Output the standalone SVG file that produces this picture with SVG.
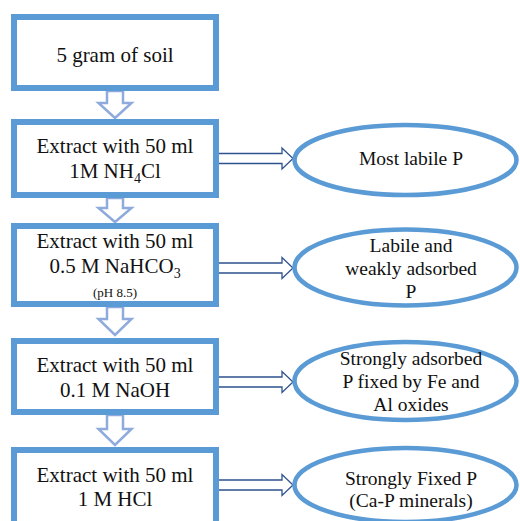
<svg xmlns="http://www.w3.org/2000/svg" width="520" height="521" viewBox="0 0 520 521">
<style>
.box{fill:#fff;stroke:#5B9BD5;stroke-width:6}
.ell{fill:#fff;stroke:#5B9BD5;stroke-width:4.5}
.down{fill:#fff;stroke:#8FAADC;stroke-width:2.5;stroke-linejoin:miter}
.right{fill:#fff;stroke:#2F528F;stroke-width:1.3}
text{font-family:"Liberation Serif","Times New Roman",serif;fill:#111;text-anchor:middle}
.bt{font-size:21px}
.et{font-size:19.5px}
.sm{font-size:13px}
</style>
<rect width="520" height="521" fill="#fff"/>
<g id="connectors">
<path class="down" d="M107,91 V103 H98.5 L115,118 L131.5,103 H123 V91 Z"/>
<path class="down" d="M107,198 V208 H98.5 L115,222 L131.5,208 H123 V198 Z"/>
<path class="down" d="M107,307 V319 H98.5 L115,335 L131.5,319 H123 V307 Z"/>
<path class="down" d="M107,415 V429 H98.5 L115,445 L131.5,429 H123 V415 Z"/>
<path class="right" d="M216,153.5 H282 V148 L293,158.5 L282,169 V163.5 H216 Z"/>
<path class="right" d="M216,263 H282 V257.5 L293,268 L282,278.5 V273 H216 Z"/>
<path class="right" d="M216,377 H282 V371.5 L293,382 L282,392.5 V387 H216 Z"/>
<path class="right" d="M216,480 H282 V474.5 L293,485 L282,495.5 V490 H216 Z"/>
</g>
<g id="box1"><rect class="box" x="14" y="17" width="202" height="71"/><text class="bt" x="115" y="62">5 gram of soil</text></g>
<g id="box2"><rect class="box" x="14" y="122" width="202" height="73"/><text class="bt" x="115" y="153">Extract with 50 ml</text><text class="bt" x="115" y="178">1M NH<tspan font-size="14" dy="5">4</tspan><tspan dy="-5">Cl</tspan></text></g>
<g id="box3"><rect class="box" x="14" y="226" width="202" height="78"/><text class="bt" x="115" y="248">Extract with 50 ml</text><text class="bt" x="115" y="273">0.5 M NaHCO<tspan font-size="14" dy="5">3</tspan></text><text class="sm" x="115" y="297">(pH 8.5)</text></g>
<g id="box4"><rect class="box" x="14" y="341" width="202" height="71"/><text class="bt" x="115" y="372">Extract with 50 ml</text><text class="bt" x="115" y="397">0.1 M NaOH</text></g>
<g id="box5"><rect class="box" x="14" y="450" width="202" height="78"/><text class="bt" x="115" y="482">Extract with 50 ml</text><text class="bt" x="115" y="506">1 M HCl</text></g>
<g id="ell1"><ellipse class="ell" cx="405.5" cy="160" rx="111" ry="35"/><text class="et" x="411" y="165">Most labile P</text></g>
<g id="ell2"><ellipse class="ell" cx="405.5" cy="267.5" rx="111" ry="38"/><text class="et" x="411" y="252">Labile and</text><text class="et" x="411" y="275">weakly adsorbed</text><text class="et" x="411" y="298">P</text></g>
<g id="ell3"><ellipse class="ell" cx="405.5" cy="381" rx="111" ry="39"/><text class="et" x="411" y="365">Strongly adsorbed</text><text class="et" x="411" y="388">P fixed by Fe and</text><text class="et" x="411" y="411">Al oxides</text></g>
<g id="ell4"><ellipse class="ell" cx="405.5" cy="485" rx="111" ry="37"/><text class="et" x="411" y="485">Strongly Fixed P</text><text class="et" x="411" y="507">(Ca-P minerals)</text></g>
</svg>
